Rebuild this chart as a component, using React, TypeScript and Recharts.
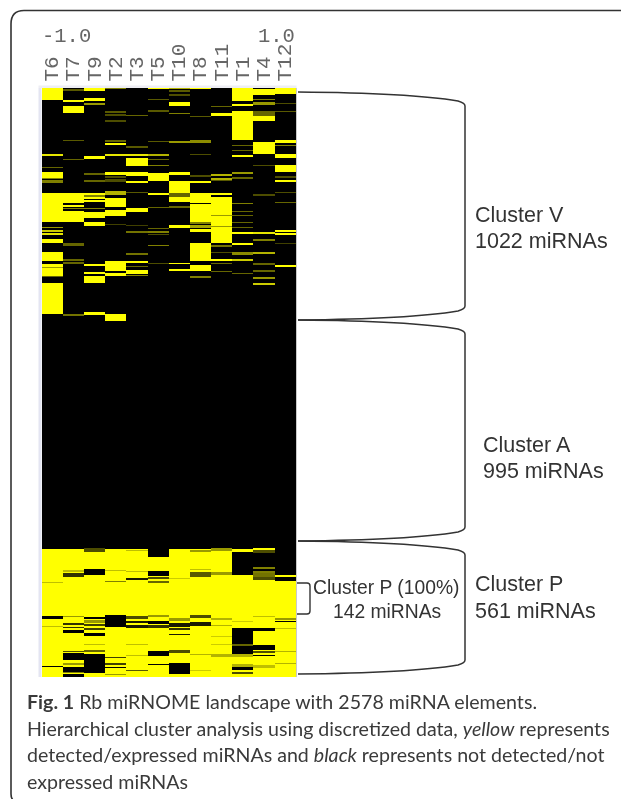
import React from 'react';
import { BarChart, Bar, XAxis, YAxis, Cell } from 'recharts';

// heatmap rows are in display bins from the top of the map, 589 bins for 2578 miRNAs
// each band is [firstBin, lastBin, brightness], anything not listed is black
const columns = ['T6', 'T7', 'T9', 'T2', 'T3', 'T5', 'T10', 'T8', 'T11', 'T1', 'T4', 'T12'];
const TOTAL_BINS = 589;

const T6 = [[0, 12, 1], [66, 67.5, .9], [79, 80, .4], [84, 90, 1], [90, 91, .5], [92, 95, .5], [105, 134, 1], [139, 140, .6], [142, 144, .8], [145, 147, .9], [151, 155, 1], [164, 173, 1], [176, 179, 1], [179, 180, .6], [180, 188, 1], [188, 189, .4], [195, 226, 1],
  [461, 494, 1], [494, 495, .75], [495, 528, 1], [530.5, 537.5, 1], [537.5, 539, .75], [539, 578, 1], [579, 589, 1]];
const T7 = [[1, 3, .35], [12, 14, 1], [18, 25, 1], [52, 53, .35], [71, 72, .4], [105, 115, 1], [117, 119, 1], [120, 121, .5], [123, 134, 1], [155, 158, .4], [171, 173, .4], [174, 176, .4], [226, 228, .45],
  [461, 482, 1], [482, 484, .75], [484, 485, 1], [485, 489, .2], [489, 528, 1], [528, 529, .6], [529, 535, 1], [535, 537, .2], [537, 539, 1], [539, 540, .2], [540, 542, 1], [545, 563, 1], [563, 564, .3], [564, 565, 1], [572, 575, 1], [575, 577, .6], [577, 579, 1], [584, 585, .5], [585, 585.5, 1]];
const T9 = [[0, 3, 1], [10, 13, 1], [15, 17, .6], [68, 71, 1], [85, 87, .4], [92, 94, .4], [105, 107, 1], [107, 109, .5], [109, 111, 1], [112, 114, 1], [120, 121, .5], [124, 130, 1], [134, 138, 1], [176, 178, 1], [184, 186, 1], [188, 195, 1], [224, 227, 1],
  [460, 464, .3], [464, 481, 1], [487, 529, 1], [531, 532, 1], [532, 535, .6], [535, 536, 1], [536, 538, .25], [538, 540, 1], [540, 542, .25], [542, 545, 1], [548, 556, 1], [556, 557, .75], [557, 562, 1], [562, 564, .4], [564, 566, 1], [585, 589, 1]];
const T2 = [[0, 1, .5], [23, 25, .35], [26, 28, .3], [32, 34, .3], [52, 54, .4], [55, 57, 1], [66, 67.5, .9], [84, 87, 1], [88, 90, .3], [91, 94, .3], [103, 107, .7], [110, 119, 1], [122, 128, 1], [136, 137, .25], [173, 183, 1], [185, 188, 1], [226, 233, 1],
  [461, 482, 1], [482, 483, .75], [483, 493, 1], [493, 494, .5], [494, 527, 1], [539, 569, 1], [569, 570, .25], [570, 575, 1], [575, 577, .25], [577, 579, 1], [580, 586, 1], [586, 587, .6], [587, 589, 1]];
const T3 = [[27, 28, .4], [58, 60, .35], [66, 67.5, .9], [70, 78, 1], [84, 87, 1], [85, 88, 1], [93, 95, 1], [104, 105, .35], [120, 124, 1], [137, 138, .25], [143, 145, .45], [165, 167, .45], [173, 175, 1], [178, 179, .4], [182, 186, 1], [187, 188, .5],
  [461, 462, 1], [462, 463, .75], [463, 483, 1], [483, 484, .75], [484, 490, 1], [490, 492, .1], [492, 528, 1], [528, 531, .3], [531, 533, 1], [533, 535, .1], [535, 537, 1], [537, 540, .1], [540, 556, 1], [556, 557, .75], [557, 567, 1], [567, 568, .75], [568, 582, 1], [582, 583, .35], [583, 589, 1]];
const T5 = [[0, 1, 1], [11, 12, .35], [22, 24, .35], [53, 54, .35], [66, 68, .7], [71, 72, .4], [77, 78, .5], [85, 93, 1], [105, 107, 1], [119, 120, .4], [140, 141, .4], [143, 145, .5], [146, 147, .3], [157, 158, .5], [175, 176, .3],
  [469, 483, 1], [488, 489, 1], [489, 491, .3], [491, 493, 1], [493, 495, .4], [495, 527, 1], [527, 529, .6], [529, 533, 1], [536, 537, 1], [537, 540, .2], [540, 563, 1], [568, 576, 1], [577, 589, 1]];
const T10 = [[0, 1, .7], [2, 4, .35], [6, 8, .3], [14, 18, 1], [25, 26, .5], [53, 55, .6], [84, 86, 1], [85, 87, 1], [93, 105, 1], [105, 107, .4], [107, 109, .4], [109, 114, 1], [118, 120, .4], [137, 140, 1], [175, 176, 1], [181, 183, 1],
  [461, 490, 1], [490, 491, .8], [491, 530, 1], [530, 533, .6], [533, 535, 1], [535, 539, .1], [539, 540, 1], [540, 542, .2], [542, 546, 1], [546, 547, .1], [547, 562, 1], [562, 565, .3], [565, 575, 1], [586, 589, 1]];
const T8 = [[0, 1, 1], [28, 29, .35], [52, 55, .55], [66, 67, .3], [87, 88, .3], [88, 89, .3], [93, 95, 1], [105, 115, 1], [116, 134, 1], [134, 136, .5], [137, 140, .65], [141, 144, 1], [155, 173, 1], [177, 183, 1], [188, 190, .5],
  [461, 462, 1], [462, 464, .6], [464, 481, 1], [481, 482, .75], [482, 484, 1], [484, 489, .35], [489, 527, 1], [527, 530, .3], [530, 534, 1], [534, 538, .1], [538, 566, 1], [566, 567, .7], [567, 582, 1], [582, 583, .8], [583, 589, 1]];
const T11 = [[18, 19, .4], [25, 28, 1], [86, 88, .7], [90, 92, .7], [86, 88, .6], [90, 93, .35], [105, 107, 1], [109, 127, 1], [127, 128, .6], [128, 138, 1], [138, 139, .6], [139, 155, 1], [157, 159, .45], [164, 165, .3], [171, 173, 1], [175, 176, .4], [183, 184, .4],
  [460, 463, .6], [463, 484, 1], [484, 487, .6], [487, 530, 1], [530, 532, .7], [532, 537, 1], [537, 538, .7], [538, 548, 1], [548, 549, .8], [549, 556, 1], [556, 557, .8], [557, 566, 1], [566, 569, .7], [569, 589, 1]];
const T1 = [[0, 13, 1], [16, 18, 1], [23, 52, 1], [57, 58, .4], [62, 63, .4], [67, 69, 1], [84, 86, .6], [89, 91, .4], [115, 116, .5], [123, 124, .4], [127, 128, .4], [134, 135, .4], [139, 140, .4], [144, 146, 1], [155, 157, 1], [164, 167, .55], [171, 173, .8], [185, 186, .4],
  [461, 464, 1], [487, 533, 1], [533, 534, .8], [534, 540, 1], [556, 558, .4], [566, 569, .7], [569, 576, 1], [576, 579, .7], [582, 584, 1], [584, 586, .3], [586, 589, 1]];
const T4 = [[1, 7, 1], [11, 12, .5], [14, 17, .6], [23, 25, .4], [25, 28, .4], [28, 33, 1], [54, 66, 1], [77, 78, .3], [106, 108, .3], [144, 146, .9], [151, 153, .5], [164, 166, .7], [175, 177, .4], [182, 184, .4], [189, 191, .6], [195, 196.5, .8],
  [460, 462, 1], [462, 465, .3], [479, 481, .5], [483, 485, .5], [485, 489, .45], [489, 492, .3], [492, 528, 1], [528, 529, .75], [529, 540, 1], [543, 557, 1], [562, 563, 1], [563, 565, .3], [565, 567, 1], [568, 577, 1], [577, 580, .75], [580, 589, 1]];
const T12 = [[0, 6, 1], [15, 16, .3], [23, 24, .35], [52, 55, 1], [57, 58, .5], [66, 70, 1], [77, 84, 1], [88, 90, .3], [92, 94, 1], [104, 105, .3], [114, 115, .4], [142, 144, 1], [145, 147, 1], [155, 156, .25], [177, 179, 1],
  [487, 489, 1], [493, 530, 1], [530, 532, .6], [532, 533, 1], [534, 540, 1], [540, 541, .75], [541, 563, 1], [563, 564, .7], [564, 575, 1], [575, 576, .7], [576, 589, 1]];
const bandsByColumn = [T6, T7, T9, T2, T3, T5, T10, T8, T11, T1, T4, T12];

const clusterEdges = [4, 232, 453, 586];

const CHART_W = 621;
const CHART_H = 799;
const PLOT_LEFT = 41.7;
const PLOT_RIGHT = 295.7;
const PLOT_TOP = 88;
const TEXT = '#333';

const binColor = (level: number) => {
  const v = Math.round(255 * level);
  return `rgb(${v},${v},0)`;
};

// turn a column's bands into consecutive stack segments, black filling the gaps
const toSegments = (bands: number[][]) => {
  const segs: { size: number; level: number }[] = [];
  let cursor = 0;
  bands.forEach(([from, to, level]) => {
    const start = Math.max(from, cursor);
    if (to <= start) return;
    if (start > cursor) segs.push({ size: start - cursor, level: 0 });
    segs.push({ size: to - start, level });
    cursor = to;
  });
  if (cursor < TOTAL_BINS) segs.push({ size: TOTAL_BINS - cursor, level: 0 });
  return segs;
};

const segmentsByColumn = bandsByColumn.map(toSegments);
const segmentCount = Math.max(...segmentsByColumn.map((s) => s.length));

const chartData = columns.map((col, c) => {
  const row: Record<string, string | number> = { col };
  segmentsByColumn[c].forEach((s, i) => {
    row[`seg${i}`] = s.size;
  });
  return row;
});

const ColumnTick = ({ x, payload }: any) => (
  <text
    transform={`translate(${x + 6} 81.5) rotate(-90)`}
    fontFamily="'Liberation Mono', monospace"
    fontSize={21}
    fill="#666"
  >
    {payload.value}
  </text>
);

const bracketPath = (a: number, b: number) => {
  const t = PLOT_TOP + a;
  const e = PLOT_TOP + b;
  return `M298 ${t} Q410 ${t + 1} 458 ${t + 9} Q465 ${t + 11} 465 ${t + 14} V${e - 14} Q465 ${e - 11} 458 ${e - 9} Q410 ${e - 1} 298 ${e}`;
};

const labelStyle = { fontFamily: "'Liberation Sans', Arial, sans-serif", fill: TEXT };

const Overlay = () => (
  <svg width={CHART_W} height={CHART_H} style={{ position: 'absolute', left: 0, top: 0 }}>
    <path d="M621 10.5 H24 Q11 10.5 11 24 V794 Q11 798 13 800" fill="none" stroke={TEXT} strokeWidth={1.6} />
    <rect x={38.5} y={88} width={3} height={589} fill="#e4e5f2" />
    <rect x={296} y={88} width={1} height={589} fill="#c9c9c9" />
    <rect x={38.5} y={85.5} width={258} height={2.5} fill="#eeeef4" />

    <g fontFamily="'Liberation Mono', monospace" fontSize={20.5} fill="#666">
      <text x={42} y={42}>-1.0</text>
      <text x={258} y={42}>1.0</text>
    </g>

    {clusterEdges.slice(1).map((edge, i) => (
      <path key={edge} d={bracketPath(clusterEdges[i], edge)} fill="none" stroke={TEXT} strokeWidth={1.5} />
    ))}
    <path d="M297 583 H307 Q310 583 310 586 V611 Q310 614 307 614 H297" fill="none" stroke={TEXT} strokeWidth={1.4} />

    <g {...labelStyle} fontSize={21.5}>
      <text x={475} y={221.5}>Cluster V</text>
      <text x={475} y={248}>1022 miRNAs</text>
      <text x={483} y={452}>Cluster A</text>
      <text x={483} y={478}>995 miRNAs</text>
      <text x={475} y={591}>Cluster P</text>
      <text x={475} y={618}>561 miRNAs</text>
    </g>
    <g {...labelStyle} fontSize={19.3}>
      <text x={313} y={594}>Cluster P (100%)</text>
      <text x={333} y={618}>142 miRNAs</text>
    </g>

    <g fontFamily="Lato, 'Open Sans', sans-serif" fontSize={19.6} fill="#3a3a3a">
      <text x={27} y={709}>
        <tspan fontWeight={700}>Fig. 1</tspan> Rb miRNOME landscape with 2578 miRNA elements.
      </text>
      <text x={27} y={736}>
        Hierarchical cluster analysis using discretized data, <tspan fontStyle="italic">yellow</tspan> represents
      </text>
      <text x={27} y={762}>
        detected/expressed miRNAs and <tspan fontStyle="italic">black</tspan> represents not detected/not
      </text>
      <text x={27} y={789}>expressed miRNAs</text>
    </g>
  </svg>
);

export default function App() {
  return (
    <div style={{ position: 'absolute', left: 0, top: 0, width: CHART_W, height: CHART_H, overflow: 'hidden', background: '#fff', filter: 'blur(0.45px)' }}>
      <BarChart
        width={CHART_W}
        height={CHART_H}
        data={chartData}
        barCategoryGap={0}
        barSize={(PLOT_RIGHT - PLOT_LEFT) / columns.length - 0.001}
        style={{ shapeRendering: 'crispEdges' }}
        margin={{ top: PLOT_TOP - 30, left: PLOT_LEFT, right: CHART_W - PLOT_RIGHT, bottom: CHART_H - PLOT_TOP - TOTAL_BINS }}
      >
        <XAxis dataKey="col" orientation="top" height={30} axisLine={false} tickLine={false} interval={0} tick={<ColumnTick />} />
        <YAxis hide reversed type="number" domain={[0, TOTAL_BINS]} />
        {Array.from({ length: segmentCount }, (_, i) => (
          <Bar key={i} dataKey={`seg${i}`} stackId="map" isAnimationActive={false} stroke="none">
            {columns.map((col, c) => {
              const seg = segmentsByColumn[c][i];
              return <Cell key={col} fill={seg ? binColor(seg.level) : 'none'} />;
            })}
          </Bar>
        ))}
      </BarChart>
      <Overlay />
    </div>
  );
}
